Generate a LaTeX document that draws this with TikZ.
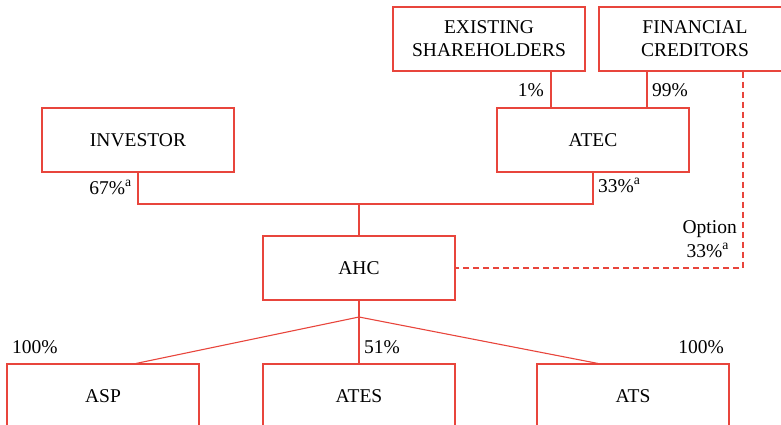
\documentclass[tikz,border=0pt]{standalone}
\usepackage{fontspec}
\setmainfont{Liberation Serif}
\definecolor{orgred}{RGB}{232,69,60}
\begin{document}
\begin{tikzpicture}[x=1pt, y=-1pt,
  txt/.style={font=\fontsize{19.5}{23}\selectfont},
  box/.style={txt, draw=orgred, line width=1.1pt, minimum width=192pt,
              minimum height=64pt, inner sep=0pt, align=center},
  link/.style={draw=orgred, line width=1.1pt},
  optlink/.style={link, dashed, dash pattern=on 6pt off 4pt},
  pct/.style={txt, inner sep=0pt}]
\useasboundingbox (0,0) rectangle (781,425);
\clip (0,0) rectangle (781,425);

% owners
\node[box] (es)   at (489,39)  {EXISTING\\SHAREHOLDERS};
\node[box] (fc)   at (695,39)  {FINANCIAL\\CREDITORS};
\node[box] (inv)  at (138,140) {INVESTOR};
\node[box] (atec) at (593,140) {ATEC};
% holding
\node[box] (ahc)  at (359,268) {AHC};
% subsidiaries
\node[box] (asp)  at (103,396) {ASP};
\node[box] (ates) at (359,396) {ATES};
\node[box] (ats)  at (633,396) {ATS};

% ATEC ownership
\draw[link] ([xshift=-42pt]atec.north) coordinate (e1) -- (e1 |- es.south);
\draw[link] ([xshift=54pt]atec.north) coordinate (f1) -- (f1 |- fc.south);
\node[pct, anchor=base east] at (544,97) {1\%};
\node[pct, anchor=base west] at (652,97) {99\%};

% AHC ownership
\coordinate (bus) at (359,204);
\draw[link] (inv.south) |- (bus) -| (atec.south);
\draw[link] (bus) -- (ahc.north);
\node[pct, anchor=base east] at (132,194) {67\%\textsuperscript{a}};
\node[pct, anchor=base west] at (598,192) {33\%\textsuperscript{a}};

% option of the financial creditors
\draw[optlink] ([xshift=48pt]fc.south) coordinate (o1) -- (o1 |- ahc.east) -- (ahc.east);
\node[pct, anchor=base east] at (737,233) {Option};
\node[pct, anchor=base east] at (729,257) {33\%\textsuperscript{a}};

% subsidiaries of AHC
\coordinate (hub) at (359,317);
\draw[link] (ahc.south) -- (hub) -- (ates.north);
\draw[link] (hub) -- ([xshift=33pt]asp.north);
\draw[link] (hub) -- ([xshift=-35pt]ats.north);
\node[pct, anchor=base west] at (12,353)  {100\%};
\node[pct, anchor=base west] at (364,353) {51\%};
\node[pct, anchor=base east] at (724,353) {100\%};
\end{tikzpicture}
\end{document}
